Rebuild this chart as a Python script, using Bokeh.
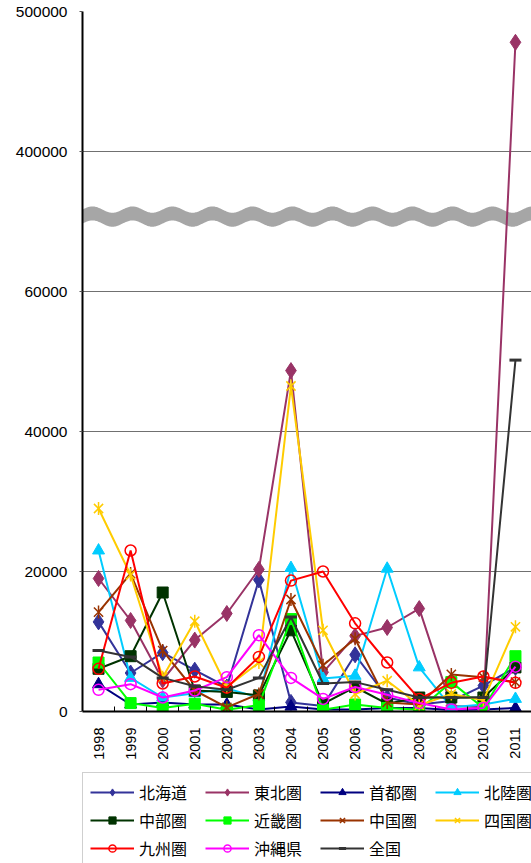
import math
import numpy as np
from bokeh.plotting import figure
from bokeh.layouts import column
from bokeh.models import (ColumnDataSource, Range1d, FixedTicker, Legend, LegendItem)
from bokeh.embed import file_html
from bokeh.resources import INLINE

years = [1998, 1999, 2000, 2001, 2002, 2003, 2004, 2005, 2006, 2007, 2008, 2009, 2010, 2011]

hokkaido = [12800, 5500, 8400, 5900, 3500, 18800, 1300, 800, 8100, 2000, 1000, 1500, 3700, 6300]
tohoku = [19000, 13000, 4500, 10200, 14000, 20300, 48700, 5600, 10800, 12000, 14700, 800, 600, 478000]
shutoken = [3900, 1000, 1300, 1000, 1000, 300, 700, 300, 300, 500, 500, 200, 300, 500]
hokuriku = [23000, 4800, 2000, 2600, 3300, 2000, 20500, 4700, 5100, 20400, 6300, 600, 1000, 1800]
chubu = [6100, 7900, 17000, 3000, 2800, 2300, 11600, 1100, 3500, 1100, 2000, 2000, 2000, 6300]
kinki = [7000, 1200, 500, 1100, 250, 900, 13200, 250, 1000, 500, 250, 4200, 500, 7900]
chugoku = [14200, 19700, 8700, 3000, 600, 2500, 16000, 6600, 10400, 1300, 1000, 5300, 4900, 4200]
shikoku = [29000, 19500, 4900, 12900, 3500, 7000, 46500, 11600, 2500, 4400, 900, 2500, 1600, 12100]
kyushu = [6100, 23000, 4000, 5000, 3400, 7800, 18700, 20000, 12600, 7000, 1800, 4100, 5000, 4100]
okinawa = [3100, 3900, 2000, 3000, 4900, 10900, 4800, 1800, 3500, 2400, 1200, 300, 500, 6400]
zenkoku = [8700, 7800, 4800, 3600, 3100, 4800, 13500, 4000, 4200, 3100, 2000, 2000, 2000, 50200]

series_names = ["北海道", "東北圏", "首都圏", "北陸圏", "中部圏", "近畿圏",
                "中国圏", "四国圏", "九州圏", "沖縄県", "全国"]
series_values = [hokkaido, tohoku, shutoken, hokuriku, chubu, kinki,
                 chugoku, shikoku, kyushu, okinawa, zenkoku]
series_colors = ["#333399", "#993366", "#000080", "#00CCFF", "#003300", "#00FF00",
                 "#993300", "#FFCC00", "#FF0000", "#FF00FF", "#333333"]
series_markers = ["diamond", "diamond", "triangle", "triangle", "square", "square",
                  "asterisk", "asterisk", "circle", "circle", "dash"]

y_tick_values = [0, 20000, 40000, 60000, 400000, 500000]

# broken axis: lower segment 0..~70000 shown as is, upper segment 400000..500000 compressed 1:5
BREAK_LOW = 75000
def to_display(v):
    return v if v < BREAK_LOW else 80000 + (v - 400000) / 5.0

p = figure(width=531, height=771, output_backend="svg", toolbar_location=None,
           x_range=Range1d(1997.5, 2011.5), y_range=Range1d(0, 100000),
           min_border_left=82, min_border_right=0, min_border_top=11, min_border_bottom=60)
p.outline_line_color = None
p.background_fill_color = "white"

disp_ticks = [to_display(v) for v in y_tick_values]
p.yaxis.ticker = FixedTicker(ticks=disp_ticks)
p.yaxis.major_label_overrides = {d: str(v) for d, v in zip(disp_ticks, y_tick_values)}
p.yaxis.major_label_text_font = "Liberation Sans"
p.yaxis.major_label_text_font_size = "15.5px"
p.yaxis.major_label_text_color = "black"
p.yaxis.axis_line_color = "black"
p.yaxis.axis_line_width = 2
p.yaxis.major_tick_in = 0
p.yaxis.major_tick_out = 3
p.yaxis.major_tick_line_color = "#555555"
p.yaxis.minor_tick_line_color = None
p.yaxis.major_label_standoff = 12

p.xaxis.ticker = FixedTicker(ticks=years, minor_ticks=[y + 0.5 for y in years[:-1]])
p.xaxis.major_label_overrides = {y: str(y) for y in years}
p.xaxis.major_label_orientation = math.pi / 2
p.xaxis.major_label_text_font = "Liberation Sans"
p.xaxis.major_label_text_font_size = "14.5px"
p.xaxis.major_label_text_color = "black"
p.xaxis.axis_line_color = "black"
p.xaxis.axis_line_width = 2
p.xaxis.major_tick_line_color = None
p.xaxis.minor_tick_line_color = "black"
p.xaxis.minor_tick_in = 5
p.xaxis.minor_tick_out = 0
p.xaxis.major_label_standoff = 10

p.xgrid.grid_line_color = None
p.ygrid.grid_line_color = "#707070"
p.ygrid.grid_line_width = 1

# wavy break band (decoration)
wx = np.linspace(1997.5, 2011.5, 600)
phase = (wx - 1997.5) / (40.0 / 32.07) * 2 * math.pi
center = 70700 + 450 * np.sin(phase)
half = 1000
p.patch(np.concatenate([wx, wx[::-1]]),
        np.concatenate([center + half, (center - half)[::-1]]),
        fill_color="#a6a6a6", line_color=None)

# legend strip below the chart (same sources, ranges keep marks out of view)
q = figure(width=531, height=92, output_backend="svg", toolbar_location=None,
           x_range=Range1d(-10, -9), y_range=Range1d(-10, -9),
           x_axis_location=None, y_axis_location=None,
           min_border_left=0, min_border_right=0, min_border_top=0, min_border_bottom=0)
q.grid.grid_line_color = None
q.outline_line_color = None

def draw_series(fig, src, col, mk):
    rends = [fig.line("x", "y", source=src, line_color=col, line_width=2)]
    if mk == "diamond":
        rends.append(fig.scatter("x", "y", source=src, marker="diamond",
                                 size=16, fill_color=col, line_color=col))
    elif mk == "triangle":
        rends.append(fig.scatter("x", "y", source=src, marker="triangle", size=12,
                                 fill_color=col, line_color=col))
    elif mk == "square":
        rends.append(fig.scatter("x", "y", source=src, marker="square", size=11,
                                 fill_color=col, line_color=col))
    elif mk == "asterisk":
        rends.append(fig.scatter("x", "y", source=src, marker="x", size=13,
                                 line_color=col, line_width=1.5))
        rends.append(fig.scatter("x", "y", source=src, marker="dash", angle=math.pi / 2, size=13,
                                 line_color=col, line_width=1.5))
    elif mk == "circle":
        rends.append(fig.scatter("x", "y", source=src, marker="circle", size=11,
                                 fill_color=None, line_color=col, line_width=1.5))
    elif mk == "dash":
        rends.append(fig.scatter("x", "y", source=src, marker="dash", size=12,
                                 line_color=col, line_width=3))
    return rends

items = []
for name, vals, col, mk in zip(series_names, series_values, series_colors, series_markers):
    src = ColumnDataSource(dict(x=years, y=[to_display(v) for v in vals]))
    draw_series(p, src, col, mk)
    rends = draw_series(q, src, col, mk)
    items.append(LegendItem(label=name, renderers=rends))

legend = Legend(items=items, orientation="horizontal", ncols=4,
                location=(0, -5),
                label_text_font="Noto Sans CJK JP", label_text_font_size="16px",
                label_text_color="black",
                glyph_width=44, glyph_height=18, label_standoff=5, label_width=62,
                spacing=4, padding=7, margin=0,
                border_line_color="#a0a0a0", border_line_width=1,
                background_fill_color="white", background_fill_alpha=1)
q.add_layout(legend, "center")

layout = column(p, q, spacing=0)
open("out.html", "w").write(file_html(layout, INLINE))
